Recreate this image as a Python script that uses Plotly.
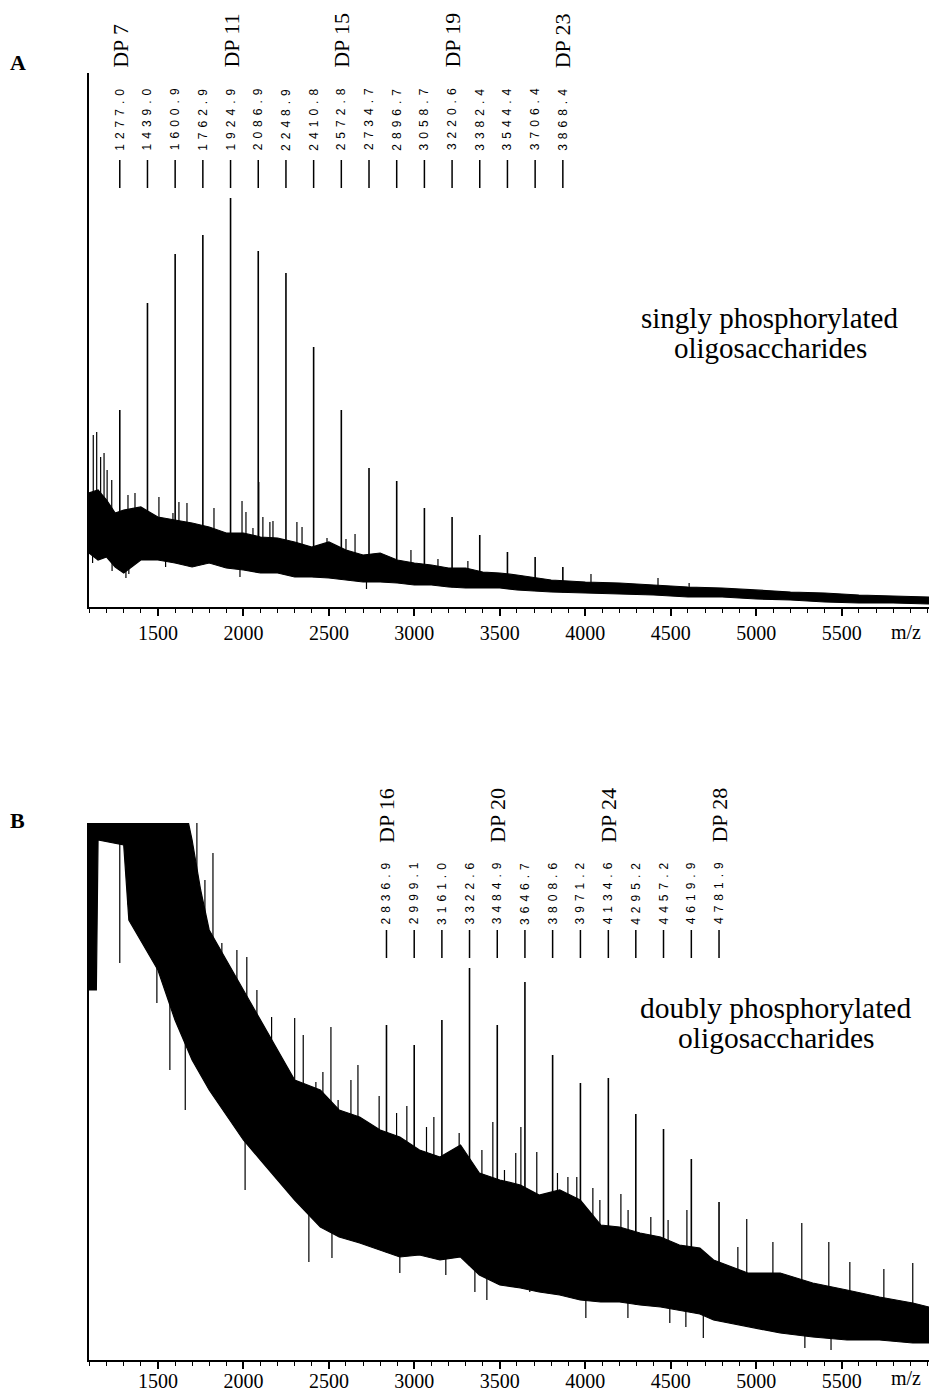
import numpy as np
import plotly.graph_objects as go

W, H = 940, 1392

# ---------------- Panel A: singly phosphorylated ----------------
peaks_a_mz = [1277.0, 1439.0, 1600.9, 1762.9, 1924.9, 2086.9, 2248.9, 2410.8, 2572.8,
              2734.7, 2896.7, 3058.7, 3220.6, 3382.4, 3544.4, 3706.4, 3868.4]
peaks_a_int = [197, 304, 353, 372, 409, 356, 334, 260, 197, 139, 126, 99, 90, 72, 55, 50, 40]
peaks_a_labels = ["1277.0", "1439.0", "1600.9", "1762.9", "1924.9", "2086.9", "2248.9", "2410.8",
                  "2572.8", "2734.7", "2896.7", "3058.7", "3220.6", "3382.4", "3544.4", "3706.4", "3868.4"]
dp_a_mz = [1277.0, 1924.9, 2572.8, 3220.6, 3868.4]
dp_a_labels = ["DP 7", "DP 11", "DP 15", "DP 19", "DP 23"]

band_a_mz = [1097, 1150, 1200, 1250, 1300, 1400, 1500, 1600, 1700, 1800, 1900, 2000, 2100, 2200,
             2300, 2400, 2500, 2600, 2700, 2800, 2900, 3000, 3100, 3200, 3300, 3400, 3500, 3600,
             3800, 4000, 4200, 4400, 4600, 4800, 5000, 5200, 5400, 5600, 5800, 6010]
band_a_lo = [54, 47, 50, 40, 34, 47, 47, 44, 40, 44, 39, 37, 34, 34, 30, 30, 29, 27, 25, 25,
             24, 22, 22, 20, 19, 19, 19, 17, 15, 14, 13, 12, 10, 10, 8, 7, 5, 4, 4, 3]
band_a_hi = [114, 117, 107, 94, 97, 100, 90, 87, 84, 80, 74, 74, 70, 69, 65, 60, 65, 57, 52, 54,
             47, 44, 42, 39, 39, 35, 34, 32, 27, 25, 24, 22, 20, 19, 17, 15, 14, 12, 11, 10]

spikes_a_mz = [1122, 1142, 1165, 1185, 1203, 1230, 1325, 1366, 1506, 1588, 1623, 1670, 1740, 1828,
               1992, 2015, 2056, 2090, 2114, 2155, 2173, 2313, 2343, 2489, 2600, 2653, 2980, 3138,
               3313, 4033, 4425, 4607]
spikes_a_int = [172, 175, 150, 154, 137, 127, 112, 114, 110, 94, 105, 104, 82, 99,
                106, 95, 79, 125, 90, 85, 86, 85, 80, 69, 68, 73, 57, 48,
                46, 33, 29, 24]
dips_a_mz = [1118, 1232, 1313, 1330, 1545, 1980, 2720]
dips_a_int = [44, 36, 29, 33, 40, 30, 18]

# ---------------- Panel B: doubly phosphorylated ----------------
peaks_b_mz = [2836.9, 2999.1, 3161.0, 3322.6, 3484.9, 3646.7, 3808.6, 3971.2, 4134.6,
              4295.2, 4457.2, 4619.9, 4781.9]
peaks_b_int = [335, 315, 340, 392, 335, 378, 305, 277, 282, 246, 231, 201, 158]
peaks_b_labels = ["2836.9", "2999.1", "3161.0", "3322.6", "3484.9", "3646.7", "3808.6",
                  "3971.2", "4134.6", "4295.2", "4457.2", "4619.9", "4781.9"]
dp_b_mz = [2836.9, 3484.9, 4134.6, 4781.9]
dp_b_labels = ["DP 16", "DP 20", "DP 24", "DP 28"]

band_b_mz = [1097, 1140, 1150, 1300, 1330, 1400, 1500, 1600, 1650, 1700, 1750, 1800, 1900, 2000,
             2100, 2200, 2300, 2450, 2560, 2680, 2800, 2915, 3030, 3150, 3270, 3380, 3500, 3620,
             3730, 3850, 3970, 4090, 4200, 4320, 4440, 4550, 4670, 4750, 4950, 5140, 5330, 5530,
             5720, 5915, 6010]
band_b_lo = [370, 370, 520, 515, 440, 420, 390, 340, 320, 300, 285, 270, 245, 220,
             200, 180, 160, 133, 123, 117, 110, 103, 105, 100, 103, 85, 75, 72,
             68, 65, 60, 58, 58, 55, 53, 50, 46, 40, 33, 27, 23, 20,
             20, 17, 17]
band_b_hi = [600, 600, 600, 600, 600, 600, 600, 600, 560, 520, 470, 430, 400, 370,
             340, 310, 280, 270, 250, 243, 230, 223, 210, 203, 215, 187, 180, 175,
             165, 170, 160, 135, 133, 127, 123, 115, 112, 100, 87, 87, 77, 70,
             63, 57, 53]

spikes_b_mz = [1728, 1775, 1822, 1874, 1903, 1962, 2020, 2079, 2165, 2300, 2350, 2424, 2465, 2512,
               2554, 2629, 2670, 2794, 2896, 2956, 3071, 3114, 3262, 3395, 3459, 3527, 3593, 3623,
               3716, 3837, 3898, 3950, 4044, 4085, 4208, 4250, 4383, 4484, 4594, 4892, 4944, 5097,
               5266, 5424, 5547, 5746, 5915]
spikes_b_int = [560, 480, 507, 417, 390, 410, 403, 370, 343, 342, 325, 278, 288, 333,
                260, 280, 295, 264, 247, 254, 233, 243, 227, 210, 238, 190, 207, 233,
                208, 187, 183, 183, 172, 160, 166, 150, 143, 140, 150, 113, 141, 118,
                137, 118, 98, 91, 97]
dips_b_mz = [1277, 1325, 1494, 1570, 1660, 2010, 2383, 2518, 2915, 3184, 3354, 3424, 3675,
             4003, 4249, 4494, 4588, 4690, 5284, 5437]
dips_b_int = [397, 483, 357, 290, 250, 170, 98, 102, 87, 85, 68, 60, 68,
              42, 42, 37, 33, 22, 12, 10]

x_ticks = [1500, 2000, 2500, 3000, 3500, 4000, 4500, 5000, 5500]
x_ticktext = ["1500", "2000", "2500", "3000", "3500", "4000", "4500", "5000", "5500"]
x_range = [1097, 6010]

# ---------------- layout geometry (pixels) ----------------
def py(ypix):
    return 1 - ypix / H

A_top, A_bot = 73, 607
B_top, B_bot = 823, 1360
xdom = [89 / W, 929 / W]

fig = go.Figure()


def vlines(xs, y0s, y1s):
    X, Y = [], []
    for x, a, b in zip(xs, y0s, y1s):
        X += [x, x, None]
        Y += [a, b, None]
    return X, Y


def add_panel(xa, ya, band_mz, lo, hi, spk_mz, spk_int, dip_mz, dip_int, pk_mz, pk_int,
              mark_lo, mark_hi):
    fig.add_trace(go.Scatter(x=band_mz, y=lo, mode="lines", line=dict(color="black", width=1.2),
                             xaxis=xa, yaxis=ya, hoverinfo="skip"))
    fig.add_trace(go.Scatter(x=band_mz, y=hi, mode="lines", line=dict(color="black", width=1.2),
                             fill="tonexty", fillcolor="black", xaxis=xa, yaxis=ya, hoverinfo="skip"))
    base = np.interp(spk_mz, band_mz, hi) - 3
    X, Y = vlines(spk_mz, base, spk_int)
    fig.add_trace(go.Scatter(x=X, y=Y, mode="lines", line=dict(color="black", width=1.2),
                             xaxis=xa, yaxis=ya, hoverinfo="skip"))
    base = np.interp(dip_mz, band_mz, lo) + 3
    X, Y = vlines(dip_mz, base, dip_int)
    fig.add_trace(go.Scatter(x=X, y=Y, mode="lines", line=dict(color="black", width=1.2),
                             xaxis=xa, yaxis=ya, hoverinfo="skip"))
    base = np.interp(pk_mz, band_mz, lo)
    X, Y = vlines(pk_mz, base, pk_int)
    fig.add_trace(go.Scatter(x=X, y=Y, mode="lines", line=dict(color="black", width=1.6),
                             xaxis=xa, yaxis=ya, hoverinfo="skip"))
    X, Y = vlines(pk_mz, [mark_lo] * len(pk_mz), [mark_hi] * len(pk_mz))
    fig.add_trace(go.Scatter(x=X, y=Y, mode="lines", line=dict(color="black", width=1.5),
                             xaxis=xa, yaxis=ya, hoverinfo="skip"))


add_panel("x", "y", band_a_mz, band_a_lo, band_a_hi, spikes_a_mz, spikes_a_int,
          dips_a_mz, dips_a_int, peaks_a_mz, peaks_a_int, A_bot - 188, A_bot - 160)
add_panel("x2", "y2", band_b_mz, band_b_lo, band_b_hi, spikes_b_mz, spikes_b_int,
          dips_b_mz, dips_b_int, peaks_b_mz, peaks_b_int, B_bot - 958, B_bot - 930)

xaxis_common = dict(
    range=x_range, domain=xdom, tickmode="array", tickvals=x_ticks, ticktext=x_ticktext,
    ticks="outside", ticklen=7, tickwidth=1.5, tickcolor="black",
    minor=dict(tickmode="linear", tick0=1100, dtick=100, ticks="outside", ticklen=4,
               tickwidth=1.2, tickcolor="black", showgrid=False),
    showline=True, linewidth=2, linecolor="black", showgrid=False, zeroline=False,
    tickfont=dict(family="Liberation Serif", size=20, color="black"), automargin=False,
)
yaxis_common = dict(showline=True, linewidth=2, linecolor="black", showgrid=False,
                    zeroline=False, showticklabels=False, ticks="", automargin=False)

fig.update_layout(
    width=W, height=H, margin=dict(l=0, r=0, t=0, b=0),
    paper_bgcolor="white", plot_bgcolor="white", showlegend=False,
    xaxis=dict(**xaxis_common, anchor="y"),
    yaxis=dict(**yaxis_common, range=[0, A_bot - A_top], domain=[py(A_bot), py(A_top)], anchor="x"),
    xaxis2=dict(**xaxis_common, anchor="y2", ticklabelstandoff=-5),
    yaxis2=dict(**yaxis_common, range=[0, B_bot - B_top], domain=[py(B_bot), py(B_top)], anchor="x2"),
)

ann = []
serif = "Liberation Serif"
sans = "Liberation Sans"


def rot_labels(xref, mzs, texts, yp, anchor, font, size):
    for m, t in zip(mzs, texts):
        ann.append(dict(x=m, xref=xref, y=py(yp), yref="paper", text=t, showarrow=False,
                        textangle=-90, xanchor="center", yanchor=anchor,
                        font=dict(family=font, size=size, color="black")))


rot_labels("x", dp_a_mz, dp_a_labels, 70, "bottom", serif, 22)
rot_labels("x2", dp_b_mz, dp_b_labels, 845, "bottom", serif, 22)
rot_labels("x", peaks_a_mz, peaks_a_labels, 117, "middle", sans, 12)
rot_labels("x2", peaks_b_mz, peaks_b_labels, 891, "middle", sans, 12)


def text(xp, yp, t, size, family=serif, bold=False):
    ann.append(dict(x=xp / W, y=py(yp), xref="paper", yref="paper", text=t, showarrow=False,
                    xanchor="center", yanchor="middle",
                    font=dict(family=family, size=size, color="black",
                              weight="bold" if bold else "normal")))


text(769, 318, "singly phosphorylated", 29)
text(770, 348, "oligosaccharides", 29)
text(775, 1008, "doubly phosphorylated", 29.5)
text(776, 1038, "oligosaccharides", 29.5)
text(18, 63, "A", 22, bold=True)
text(17, 820, "B", 22, bold=True)
text(906, 632, "m/z", 20)
text(906, 1378, "m/z", 20)

fig.update_layout(annotations=ann)

post = """
document.documentElement.style.margin = '0';
document.documentElement.style.padding = '0';
document.body.style.margin = '0';
document.body.style.padding = '0';
document.body.style.overflow = 'hidden';
document.querySelectorAll('text.annotation-text').forEach(function(t){
  if(/^\\d{4}\\.\\d$/.test(t.textContent)){ t.style.letterSpacing = '5px'; }
});
"""
fig.write_html("out.html", post_script=post, config={"displayModeBar": False})
